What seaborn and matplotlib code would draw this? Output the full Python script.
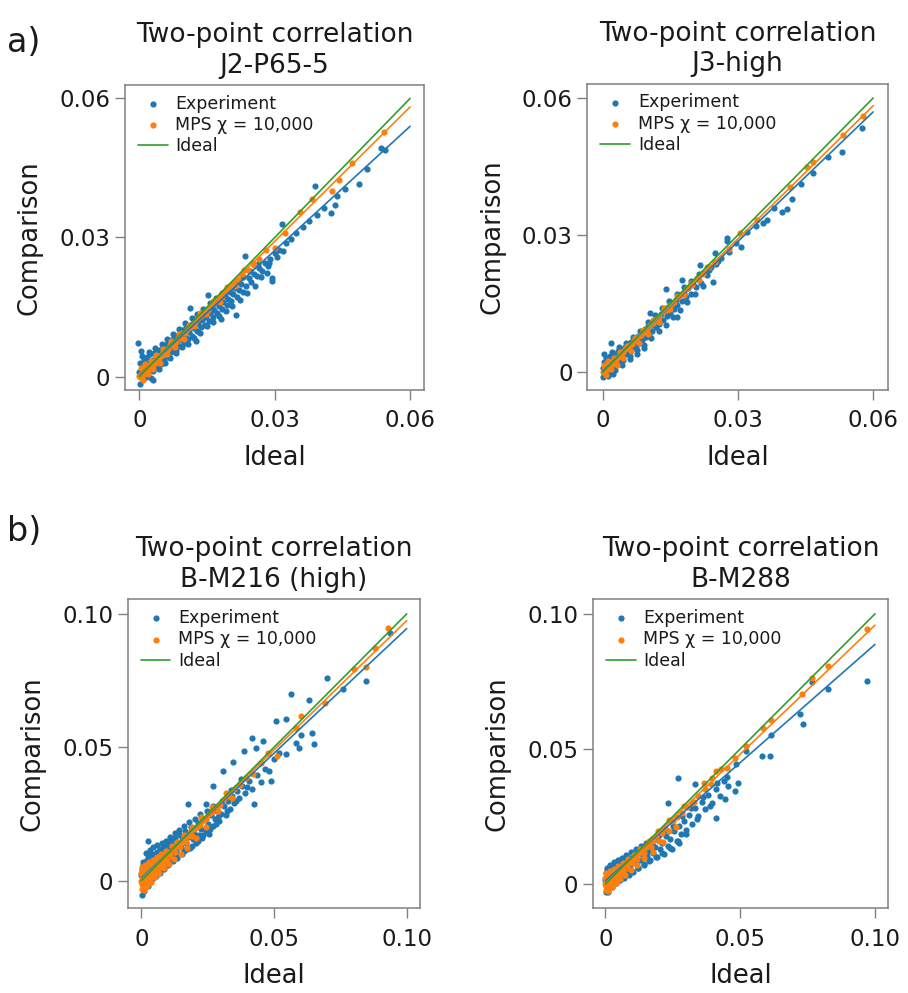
import matplotlib.pyplot as plt
import pandas as pd
import seaborn as sns

sns.set_style("ticks")
plt.rcParams["font.family"] = ["DejaVu Sans"]
plt.rcParams["axes.edgecolor"] = "#808080"
plt.rcParams["xtick.color"] = "#808080"
plt.rcParams["ytick.color"] = "#808080"
plt.rcParams["xtick.labelcolor"] = "#1a1a1a"
plt.rcParams["ytick.labelcolor"] = "#1a1a1a"
plt.rcParams["text.color"] = "#1a1a1a"
plt.rcParams["axes.labelcolor"] = "#1a1a1a"

BLUE, ORANGE, GREEN = "#1f77b4", "#ff7f0e", "#2ca02c"

# (ideal, comparison) pairs
a1_exp = [
    (0.0000, 0.0010), (0.0001, -0.0016), (0.0002, 0.0030), (0.0003, 0.0055), (-0.0004, 0.0073),
    (0.0004, 0.0002), (0.0006, 0.0018), (0.0008, -0.0006), (0.0009, 0.0038), (0.0011, 0.0012),
    (0.0013, 0.0026), (0.0014, -0.0002), (0.0016, 0.0042), (0.0018, 0.0008), (0.0020, 0.0030),
    (0.0022, 0.0016), (0.0024, 0.0048), (0.0025, -0.0004), (0.0027, 0.0022), (0.0029, 0.0036),
    (0.0031, 0.0012), (0.0033, 0.0050), (0.0035, 0.0028), (0.0037, 0.0019), (0.0039, 0.0044),
    (0.0042, 0.0034), (0.0044, 0.0058), (0.0047, 0.0026), (0.0050, 0.0048), (0.0052, 0.0064),
    (0.0055, 0.0036), (0.0058, 0.0055), (0.0060, 0.0070), (0.0063, 0.0044), (0.0066, 0.0060),
    (0.0069, 0.0078), (0.0071, 0.0052), (0.0074, 0.0066), (0.0077, 0.0084), (0.0080, 0.0058),
    (0.0083, 0.0074), (0.0086, 0.0090), (0.0089, 0.0066), (0.0092, 0.0082), (0.0095, 0.0100),
    (0.0098, 0.0072), (0.0101, 0.0090), (0.0104, 0.0106), (0.0107, 0.0082), (0.0111, 0.0147),
    (0.0110, 0.0096), (0.0114, 0.0112), (0.0117, 0.0088), (0.0120, 0.0104), (0.0123, 0.0120),
    (0.0126, 0.0077), (0.0127, 0.0098), (0.0130, 0.0114), (0.0133, 0.0128), (0.0136, 0.0106),
    (0.0139, 0.0122), (0.0142, 0.0136), (0.0145, 0.0112), (0.0148, 0.0128), (0.0152, 0.0175),
    (0.0151, 0.0142), (0.0154, 0.0120), (0.0157, 0.0136), (0.0160, 0.0150), (0.0163, 0.0128),
    (0.0166, 0.0144), (0.0170, 0.0158), (0.0173, 0.0138), (0.0176, 0.0152), (0.0179, 0.0166),
    (0.0181, 0.0124), (0.0183, 0.0146), (0.0186, 0.0160), (0.0190, 0.0174), (0.0193, 0.0154),
    (0.0196, 0.0168), (0.0200, 0.0182), (0.0204, 0.0164), (0.0208, 0.0178), (0.0213, 0.0133),
    (0.0212, 0.0190), (0.0216, 0.0172), (0.0220, 0.0186), (0.0225, 0.0200), (0.0229, 0.0182),
    (0.0234, 0.0259), (0.0236, 0.0196), (0.0242, 0.0212), (0.0248, 0.0205), (0.0254, 0.0222),
    (0.0260, 0.0216), (0.0266, 0.0234), (0.0272, 0.0228), (0.0278, 0.0244), (0.0284, 0.0238),
    (0.0290, 0.0254), (0.0293, 0.0212), (0.0294, 0.0207), (0.0300, 0.0266), (0.0304, 0.0258),
    (0.0310, 0.0272), (0.0317, 0.0328), (0.0319, 0.0270), (0.0326, 0.0288), (0.0335, 0.0296),
    (0.0348, 0.0310), (0.0362, 0.0322), (0.0375, 0.0336), (0.0390, 0.0412), (0.0393, 0.0348),
    (0.0410, 0.0364), (0.0425, 0.0352), (0.0434, 0.0371), (0.0438, 0.0390), (0.0455, 0.0405),
    (0.0486, 0.0416), (0.0505, 0.0448), (0.0535, 0.0493), (0.0545, 0.0488),
    (0.0005, 0.0045), (0.0015, 0.0002), (0.0021, 0.0052), (0.0030, -0.0008), (0.0034, 0.0062),
    (0.0043, 0.0016), (0.0049, 0.0070), (0.0057, 0.0030), (0.0062, 0.0082), (0.0068, 0.0040),
    (0.0075, 0.0092), (0.0082, 0.0050), (0.0088, 0.0102), (0.0094, 0.0064), (0.0102, 0.0116),
    (0.0108, 0.0070), (0.0116, 0.0126), (0.0121, 0.0084), (0.0128, 0.0134), (0.0135, 0.0094),
    (0.0141, 0.0146), (0.0149, 0.0108), (0.0156, 0.0158), (0.0162, 0.0118), (0.0169, 0.0170),
    (0.0177, 0.0130), (0.0184, 0.0180), (0.0192, 0.0142), (0.0199, 0.0192), (0.0206, 0.0152),
    (0.0214, 0.0204), (0.0222, 0.0166), (0.0230, 0.0214), (0.0238, 0.0180), (0.0246, 0.0228),
    (0.0256, 0.0196), (0.0263, 0.0242), (0.0270, 0.0214), (0.0282, 0.0224), (0.0288, 0.0246),
]
a1_mps = [
    (0.0000, 0.0002), (0.0002, -0.0002), (0.0004, 0.0006), (0.0006, 0.0003), (0.0008, 0.0010),
    (0.0010, 0.0006), (0.0012, 0.0014), (0.0014, 0.0011), (0.0016, 0.0018), (0.0018, 0.0015),
    (0.0020, 0.0022), (0.0023, 0.0019), (0.0026, 0.0027), (0.0029, 0.0024), (0.0032, 0.0033),
    (0.0035, 0.0030), (0.0038, 0.0039), (0.0041, 0.0036), (0.0044, 0.0045), (0.0048, 0.0044),
    (0.0052, 0.0052), (0.0056, 0.0051), (0.0060, 0.0060), (0.0064, 0.0059), (0.0068, 0.0067),
    (0.0072, 0.0067), (0.0076, 0.0075), (0.0080, 0.0074), (0.0085, 0.0083), (0.0090, 0.0083),
    (0.0095, 0.0093), (0.0100, 0.0094), (0.0106, 0.0103), (0.0112, 0.0106), (0.0118, 0.0115),
    (0.0124, 0.0118), (0.0130, 0.0127), (0.0137, 0.0130), (0.0144, 0.0140), (0.0151, 0.0144),
    (0.0158, 0.0155), (0.0166, 0.0158), (0.0174, 0.0170), (0.0182, 0.0174), (0.0190, 0.0185),
    (0.0199, 0.0190), (0.0208, 0.0202), (0.0218, 0.0208), (0.0228, 0.0222), (0.0240, 0.0230),
    (0.0252, 0.0245), (0.0265, 0.0254), (0.0280, 0.0272), (0.0300, 0.0277), (0.0323, 0.0310),
    (0.0356, 0.0354), (0.0382, 0.0383), (0.0427, 0.0400), (0.0442, 0.0423), (0.0471, 0.0460),
    (0.0542, 0.0527),
    (0.0003, 0.0018), (0.0007, -0.0008), (0.0013, 0.0026), (0.0019, 0.0005), (0.0025, 0.0034),
    (0.0031, 0.0016), (0.0037, 0.0046), (0.0045, 0.0030), (0.0053, 0.0060), (0.0061, 0.0048),
    (0.0070, 0.0076), (0.0079, 0.0064), (0.0088, 0.0092), (0.0098, 0.0082), (0.0110, 0.0112),
    (0.0122, 0.0108), (0.0135, 0.0138), (0.0148, 0.0134), (0.0162, 0.0164), (0.0178, 0.0160),
    (0.0194, 0.0194), (0.0212, 0.0196), (0.0232, 0.0230), (0.0255, 0.0240),
]

a2_exp = [
    (0.0000, 0.0008), (0.0001, -0.0010), (0.0003, 0.0022), (0.0005, 0.0004), (0.0007, 0.0030),
    (0.0009, 0.0012), (0.0011, -0.0004), (0.0013, 0.0026), (0.0015, 0.0010), (0.0017, 0.0036),
    (0.0019, 0.0063), (0.0021, 0.0018), (0.0023, -0.0003), (0.0025, 0.0032), (0.0027, 0.0014),
    (0.0029, 0.0040), (0.0031, 0.0024), (0.0033, 0.0046), (0.0035, 0.0030), (0.0037, 0.0020),
    (0.0040, 0.0050), (0.0043, 0.0036), (0.0046, 0.0026), (0.0049, 0.0054), (0.0052, 0.0040),
    (0.0055, 0.0062), (0.0058, 0.0046), (0.0061, 0.0036), (0.0064, 0.0066), (0.0067, 0.0052),
    (0.0070, 0.0074), (0.0073, 0.0058), (0.0076, 0.0048), (0.0079, 0.0080), (0.0082, 0.0064),
    (0.0085, 0.0086), (0.0088, 0.0070), (0.0091, 0.0060), (0.0094, 0.0094), (0.0097, 0.0078),
    (0.0100, 0.0100), (0.0104, 0.0129), (0.0103, 0.0084), (0.0107, 0.0104), (0.0110, 0.0090),
    (0.0114, 0.0112), (0.0118, 0.0098), (0.0122, 0.0120), (0.0126, 0.0106), (0.0130, 0.0128),
    (0.0134, 0.0114), (0.0138, 0.0134), (0.0140, 0.0183), (0.0142, 0.0122), (0.0146, 0.0142),
    (0.0150, 0.0130), (0.0154, 0.0152), (0.0158, 0.0138), (0.0162, 0.0158), (0.0165, 0.0121),
    (0.0166, 0.0146), (0.0170, 0.0168), (0.0175, 0.0201), (0.0175, 0.0156), (0.0180, 0.0174),
    (0.0185, 0.0164), (0.0190, 0.0184), (0.0195, 0.0172), (0.0200, 0.0192), (0.0206, 0.0186),
    (0.0212, 0.0204), (0.0216, 0.0234), (0.0218, 0.0196), (0.0225, 0.0216), (0.0232, 0.0212),
    (0.0240, 0.0230), (0.0245, 0.0198), (0.0249, 0.0260), (0.0252, 0.0236), (0.0262, 0.0250),
    (0.0275, 0.0293), (0.0275, 0.0288), (0.0280, 0.0262), (0.0295, 0.0282), (0.0308, 0.0274),
    (0.0320, 0.0306), (0.0340, 0.0320), (0.0356, 0.0326), (0.0364, 0.0333), (0.0380, 0.0360),
    (0.0397, 0.0351), (0.0408, 0.0358), (0.0419, 0.0380), (0.0440, 0.0412), (0.0467, 0.0435),
    (0.0500, 0.0470), (0.0530, 0.0482), (0.0575, 0.0534),
    (0.0004, 0.0040), (0.0012, -0.0008), (0.0020, 0.0044), (0.0028, 0.0004), (0.0036, 0.0054),
    (0.0044, 0.0016), (0.0052, 0.0064), (0.0060, 0.0028), (0.0068, 0.0078), (0.0076, 0.0040),
    (0.0084, 0.0090), (0.0092, 0.0052), (0.0100, 0.0110), (0.0108, 0.0074), (0.0116, 0.0124),
    (0.0124, 0.0090), (0.0132, 0.0140), (0.0140, 0.0104), (0.0148, 0.0156), (0.0156, 0.0120),
    (0.0164, 0.0170), (0.0172, 0.0136), (0.0180, 0.0186), (0.0188, 0.0154), (0.0196, 0.0200),
    (0.0204, 0.0170), (0.0214, 0.0214), (0.0222, 0.0188), (0.0236, 0.0224), (0.0256, 0.0244),
]
a2_mps = [
    (0.0000, 0.0001), (0.0002, 0.0004), (0.0004, 0.0002), (0.0006, 0.0007), (0.0008, 0.0005),
    (0.0010, 0.0011), (0.0012, 0.0009), (0.0015, 0.0016), (0.0018, 0.0015), (0.0021, 0.0021),
    (0.0024, 0.0020), (0.0027, 0.0027), (0.0030, 0.0026), (0.0034, 0.0034), (0.0038, 0.0035),
    (0.0042, 0.0042), (0.0046, 0.0043), (0.0050, 0.0050), (0.0055, 0.0052), (0.0060, 0.0059),
    (0.0065, 0.0062), (0.0070, 0.0069), (0.0075, 0.0072), (0.0080, 0.0079), (0.0086, 0.0082),
    (0.0092, 0.0091), (0.0098, 0.0094), (0.0105, 0.0103), (0.0112, 0.0108), (0.0119, 0.0117),
    (0.0126, 0.0121), (0.0134, 0.0131), (0.0142, 0.0137), (0.0150, 0.0147), (0.0159, 0.0153),
    (0.0168, 0.0165), (0.0178, 0.0172), (0.0188, 0.0184), (0.0198, 0.0191), (0.0210, 0.0205),
    (0.0222, 0.0214), (0.0235, 0.0230), (0.0250, 0.0241), (0.0280, 0.0270), (0.0304, 0.0304),
    (0.0342, 0.0333), (0.0416, 0.0406), (0.0453, 0.0448), (0.0467, 0.0461), (0.0534, 0.0519),
    (0.0578, 0.0561),
    (0.0003, 0.0016), (0.0007, -0.0006), (0.0013, 0.0024), (0.0019, 0.0006), (0.0025, 0.0032),
    (0.0031, 0.0015), (0.0038, 0.0044), (0.0046, 0.0030), (0.0054, 0.0058), (0.0062, 0.0046),
    (0.0071, 0.0074), (0.0080, 0.0064), (0.0090, 0.0092), (0.0100, 0.0084), (0.0112, 0.0114),
    (0.0124, 0.0110), (0.0137, 0.0140), (0.0150, 0.0138), (0.0165, 0.0166), (0.0180, 0.0168),
    (0.0196, 0.0196), (0.0214, 0.0202), (0.0232, 0.0230),
]

b1_exp = [
    (0.0000, 0.0020), (0.0001, -0.0056), (0.0002, 0.0045), (0.0004, -0.0010), (0.0006, 0.0030),
    (0.0008, 0.0060), (0.0010, 0.0008), (0.0012, -0.0025), (0.0014, 0.0040), (0.0016, 0.0075),
    (0.0018, 0.0015), (0.0020, -0.0015), (0.0022, 0.0050), (0.0024, 0.0088), (0.0026, 0.0147),
    (0.0027, 0.0025), (0.0030, 0.0062), (0.0033, 0.0000), (0.0036, 0.0095), (0.0039, 0.0040),
    (0.0042, 0.0072), (0.0045, 0.0012), (0.0048, 0.0100), (0.0051, 0.0055), (0.0054, 0.0080),
    (0.0057, 0.0028), (0.0060, 0.0108), (0.0063, 0.0065), (0.0066, 0.0090), (0.0069, 0.0040),
    (0.0072, 0.0118), (0.0075, 0.0075), (0.0078, 0.0100), (0.0081, 0.0052), (0.0084, 0.0128),
    (0.0087, 0.0085), (0.0090, 0.0110), (0.0093, 0.0064), (0.0096, 0.0138), (0.0100, 0.0095),
    (0.0104, 0.0120), (0.0107, 0.0156), (0.0108, 0.0075), (0.0112, 0.0148), (0.0116, 0.0105),
    (0.0120, 0.0130), (0.0124, 0.0086), (0.0128, 0.0160), (0.0132, 0.0116), (0.0136, 0.0140),
    (0.0140, 0.0098), (0.0145, 0.0172), (0.0150, 0.0126), (0.0155, 0.0152), (0.0160, 0.0110),
    (0.0165, 0.0185), (0.0170, 0.0140), (0.0176, 0.0286), (0.0176, 0.0165), (0.0182, 0.0124),
    (0.0188, 0.0200), (0.0194, 0.0155), (0.0200, 0.0180), (0.0206, 0.0140), (0.0212, 0.0215),
    (0.0218, 0.0170), (0.0224, 0.0195), (0.0230, 0.0158), (0.0236, 0.0230), (0.0242, 0.0186),
    (0.0245, 0.0286), (0.0250, 0.0212), (0.0256, 0.0175), (0.0262, 0.0245), (0.0270, 0.0354),
    (0.0270, 0.0205), (0.0278, 0.0232), (0.0282, 0.0212), (0.0286, 0.0262), (0.0294, 0.0225),
    (0.0302, 0.0250), (0.0307, 0.0410), (0.0310, 0.0280), (0.0318, 0.0245), (0.0326, 0.0300),
    (0.0334, 0.0268), (0.0345, 0.0445), (0.0342, 0.0318), (0.0350, 0.0290), (0.0360, 0.0335),
    (0.0370, 0.0310), (0.0380, 0.0355), (0.0388, 0.0485), (0.0392, 0.0330), (0.0405, 0.0372),
    (0.0419, 0.0535), (0.0418, 0.0345), (0.0426, 0.0288), (0.0432, 0.0497), (0.0435, 0.0395),
    (0.0450, 0.0370), (0.0457, 0.0522), (0.0465, 0.0420), (0.0480, 0.0410), (0.0488, 0.0373),
    (0.0500, 0.0455), (0.0507, 0.0600), (0.0520, 0.0480), (0.0544, 0.0607), (0.0544, 0.0473),
    (0.0563, 0.0699), (0.0582, 0.0516), (0.0594, 0.0497), (0.0600, 0.0547), (0.0632, 0.0678),
    (0.0644, 0.0553), (0.0650, 0.0512), (0.0698, 0.0761), (0.0760, 0.0720), (0.0848, 0.0749),
    (0.0938, 0.0927),
    (0.0005, 0.0070), (0.0011, -0.0040), (0.0017, 0.0105), (0.0025, -0.0020), (0.0031, 0.0115),
    (0.0040, 0.0005), (0.0046, 0.0125), (0.0055, 0.0018), (0.0061, 0.0132), (0.0070, 0.0030),
    (0.0077, 0.0140), (0.0085, 0.0045), (0.0092, 0.0150), (0.0101, 0.0060), (0.0110, 0.0165),
    (0.0118, 0.0072), (0.0126, 0.0178), (0.0135, 0.0085), (0.0143, 0.0190), (0.0152, 0.0100),
    (0.0162, 0.0205), (0.0172, 0.0118), (0.0181, 0.0218), (0.0191, 0.0130), (0.0202, 0.0232),
    (0.0212, 0.0150), (0.0222, 0.0248), (0.0232, 0.0172), (0.0246, 0.0262), (0.0258, 0.0192),
    (0.0272, 0.0280), (0.0288, 0.0240), (0.0305, 0.0300), (0.0322, 0.0262), (0.0338, 0.0340),
    (0.0355, 0.0300), (0.0375, 0.0380), (0.0398, 0.0350),
]
b1_mps = [
    (0.0000, 0.0000), (0.0000, 0.0030), (0.0001, -0.0030), (0.0002, 0.0015), (0.0003, -0.0012),
    (0.0005, 0.0035), (0.0006, 0.0005), (0.0008, -0.0020), (0.0010, 0.0025), (0.0012, 0.0040),
    (0.0014, 0.0008), (0.0016, -0.0008), (0.0018, 0.0030), (0.0020, 0.0045), (0.0023, 0.0015),
    (0.0026, 0.0002), (0.0029, 0.0040), (0.0032, 0.0022), (0.0035, 0.0052), (0.0038, 0.0015),
    (0.0041, 0.0035), (0.0044, 0.0058), (0.0047, 0.0028), (0.0050, 0.0045), (0.0054, 0.0065),
    (0.0058, 0.0040), (0.0062, 0.0058), (0.0066, 0.0075), (0.0070, 0.0052), (0.0074, 0.0070),
    (0.0078, 0.0085), (0.0082, 0.0064), (0.0086, 0.0082), (0.0090, 0.0095), (0.0095, 0.0078),
    (0.0100, 0.0096), (0.0105, 0.0108), (0.0110, 0.0092), (0.0116, 0.0112), (0.0122, 0.0124),
    (0.0128, 0.0108), (0.0134, 0.0128), (0.0140, 0.0140), (0.0147, 0.0126), (0.0154, 0.0148),
    (0.0161, 0.0160), (0.0168, 0.0146), (0.0176, 0.0168), (0.0184, 0.0182), (0.0192, 0.0168),
    (0.0200, 0.0192), (0.0210, 0.0200), (0.0220, 0.0208), (0.0230, 0.0222), (0.0242, 0.0232),
    (0.0255, 0.0250), (0.0268, 0.0256), (0.0282, 0.0276), (0.0296, 0.0285), (0.0312, 0.0305),
    (0.0330, 0.0318), (0.0350, 0.0342), (0.0372, 0.0360), (0.0395, 0.0385), (0.0420, 0.0400),
    (0.0450, 0.0440), (0.0476, 0.0479), (0.0513, 0.0466), (0.0582, 0.0572), (0.0600, 0.0616),
    (0.0694, 0.0665), (0.0800, 0.0794), (0.0848, 0.0802), (0.0881, 0.0873), (0.0931, 0.0948),
    (0.0004, 0.0050), (0.0009, -0.0035), (0.0015, 0.0060), (0.0022, -0.0022), (0.0028, 0.0068),
    (0.0036, -0.0005), (0.0043, 0.0078), (0.0052, 0.0012), (0.0060, 0.0088), (0.0068, 0.0030),
    (0.0076, 0.0100), (0.0085, 0.0048), (0.0094, 0.0112), (0.0104, 0.0062), (0.0114, 0.0128),
    (0.0124, 0.0080), (0.0136, 0.0146), (0.0148, 0.0100), (0.0160, 0.0172), (0.0174, 0.0122),
    (0.0190, 0.0200), (0.0206, 0.0160), (0.0225, 0.0238), (0.0245, 0.0200), (0.0265, 0.0276),
    (0.0290, 0.0262), (0.0320, 0.0330), (0.0340, 0.0310),
]

b2_exp = [
    (0.0000, 0.0015), (0.0001, -0.0030), (0.0002, 0.0040), (0.0004, 0.0005), (0.0006, 0.0050),
    (0.0008, -0.0010), (0.0010, 0.0030), (0.0012, 0.0055), (0.0014, 0.0012), (0.0016, 0.0045),
    (0.0018, -0.0005), (0.0020, 0.0060), (0.0023, 0.0025), (0.0026, 0.0050), (0.0029, 0.0002),
    (0.0032, 0.0068), (0.0035, 0.0035), (0.0038, 0.0058), (0.0041, 0.0010), (0.0044, 0.0074),
    (0.0047, 0.0042), (0.0050, 0.0064), (0.0053, 0.0020), (0.0056, 0.0082), (0.0060, 0.0050),
    (0.0064, 0.0070), (0.0068, 0.0030), (0.0072, 0.0090), (0.0076, 0.0058), (0.0080, 0.0078),
    (0.0084, 0.0040), (0.0088, 0.0098), (0.0092, 0.0066), (0.0096, 0.0086), (0.0100, 0.0048),
    (0.0105, 0.0108), (0.0110, 0.0078), (0.0115, 0.0098), (0.0120, 0.0060), (0.0125, 0.0120),
    (0.0130, 0.0088), (0.0136, 0.0110), (0.0142, 0.0074), (0.0148, 0.0134), (0.0154, 0.0102),
    (0.0160, 0.0122), (0.0166, 0.0088), (0.0172, 0.0148), (0.0178, 0.0114), (0.0184, 0.0136),
    (0.0190, 0.0100), (0.0196, 0.0162), (0.0203, 0.0128), (0.0210, 0.0150), (0.0217, 0.0112),
    (0.0224, 0.0178), (0.0232, 0.0301), (0.0232, 0.0142), (0.0240, 0.0166), (0.0248, 0.0128),
    (0.0256, 0.0196), (0.0264, 0.0158), (0.0269, 0.0394), (0.0272, 0.0153), (0.0272, 0.0214),
    (0.0280, 0.0185), (0.0290, 0.0232), (0.0300, 0.0200), (0.0310, 0.0256), (0.0320, 0.0222),
    (0.0331, 0.0369), (0.0332, 0.0280), (0.0345, 0.0252), (0.0358, 0.0305), (0.0370, 0.0276),
    (0.0382, 0.0330), (0.0395, 0.0300), (0.0412, 0.0246), (0.0410, 0.0350), (0.0425, 0.0324),
    (0.0442, 0.0314), (0.0440, 0.0380), (0.0455, 0.0364), (0.0480, 0.0344), (0.0486, 0.0443),
    (0.0492, 0.0375), (0.0523, 0.0493), (0.0579, 0.0474), (0.0610, 0.0474), (0.0616, 0.0552),
    (0.0721, 0.0628), (0.0733, 0.0591), (0.0765, 0.0749), (0.0827, 0.0721), (0.0969, 0.0752),
    (0.0005, 0.0058), (0.0011, -0.0028), (0.0017, 0.0072), (0.0025, -0.0012), (0.0031, 0.0080),
    (0.0040, 0.0004), (0.0046, 0.0090), (0.0055, 0.0014), (0.0061, 0.0098), (0.0070, 0.0024),
    (0.0078, 0.0108), (0.0086, 0.0034), (0.0094, 0.0118), (0.0103, 0.0046), (0.0112, 0.0128),
    (0.0122, 0.0058), (0.0132, 0.0140), (0.0142, 0.0070), (0.0152, 0.0152), (0.0162, 0.0084),
    (0.0174, 0.0166), (0.0186, 0.0100), (0.0198, 0.0182), (0.0210, 0.0116), (0.0224, 0.0200),
    (0.0238, 0.0134), (0.0252, 0.0216), (0.0268, 0.0160), (0.0285, 0.0250), (0.0300, 0.0186),
    (0.0318, 0.0282), (0.0338, 0.0240), (0.0362, 0.0322), (0.0388, 0.0290), (0.0415, 0.0372),
    (0.0450, 0.0395),
]
b2_mps = [
    (0.0000, 0.0000), (0.0000, 0.0022), (0.0001, -0.0022), (0.0002, 0.0010), (0.0004, -0.0008),
    (0.0006, 0.0028), (0.0008, 0.0004), (0.0010, -0.0012), (0.0012, 0.0020), (0.0015, 0.0034),
    (0.0018, 0.0008), (0.0021, 0.0026), (0.0024, 0.0040), (0.0027, 0.0014), (0.0030, 0.0032),
    (0.0034, 0.0046), (0.0038, 0.0022), (0.0042, 0.0040), (0.0046, 0.0054), (0.0050, 0.0032),
    (0.0055, 0.0050), (0.0060, 0.0064), (0.0065, 0.0046), (0.0070, 0.0062), (0.0075, 0.0076),
    (0.0080, 0.0060), (0.0086, 0.0076), (0.0092, 0.0090), (0.0098, 0.0076), (0.0105, 0.0094),
    (0.0112, 0.0108), (0.0119, 0.0094), (0.0126, 0.0114), (0.0134, 0.0128), (0.0142, 0.0114),
    (0.0150, 0.0136), (0.0159, 0.0150), (0.0168, 0.0136), (0.0178, 0.0160), (0.0188, 0.0176),
    (0.0198, 0.0160), (0.0210, 0.0190), (0.0222, 0.0208), (0.0235, 0.0196), (0.0250, 0.0232),
    (0.0266, 0.0248), (0.0284, 0.0262), (0.0302, 0.0286), (0.0322, 0.0300), (0.0345, 0.0326),
    (0.0368, 0.0350), (0.0390, 0.0370), (0.0412, 0.0419), (0.0450, 0.0428), (0.0480, 0.0468),
    (0.0523, 0.0511), (0.0585, 0.0579), (0.0616, 0.0606), (0.0731, 0.0703), (0.0768, 0.0762),
    (0.0827, 0.0807), (0.0969, 0.0943),
    (0.0004, 0.0040), (0.0010, -0.0025), (0.0016, 0.0048), (0.0024, -0.0012), (0.0030, 0.0056),
    (0.0038, 0.0002), (0.0046, 0.0066), (0.0055, 0.0018), (0.0064, 0.0078), (0.0074, 0.0034),
    (0.0084, 0.0092), (0.0095, 0.0052), (0.0106, 0.0108), (0.0118, 0.0072), (0.0130, 0.0128),
    (0.0144, 0.0096), (0.0160, 0.0160), (0.0176, 0.0118), (0.0194, 0.0195), (0.0214, 0.0156),
    (0.0236, 0.0236), (0.0260, 0.0212), (0.0290, 0.0290), (0.0330, 0.0305), (0.0365, 0.0372),
    (0.0395, 0.0392), (0.0430, 0.0425),
]

# linear fits (slope, intercept)
a1_fit_exp, a1_fit_mps = (0.893, 0.0004), (0.966, 0.0002)
a2_fit_exp, a2_fit_mps = (0.946, 0.0002), (0.972, 0.0000)
b1_fit_exp, b1_fit_mps = (0.935, 0.0010), (0.970, 0.0005)
b2_fit_exp, b2_fit_mps = (0.875, 0.0012), (0.955, 0.0003)

a_ticks, a_ticklabels = [0, 0.03, 0.06], ["0", "0.03", "0.06"]
b_ticks, b_ticklabels = [0, 0.05, 0.10], ["0", "0.05", "0.10"]


def panel(ax, title, exp, mps, fit_exp, fit_mps, xmax, ticks, ticklabels, xlim, ylim):
    exp_df = pd.DataFrame(exp, columns=["ideal", "comp"])
    mps_df = pd.DataFrame(mps, columns=["ideal", "comp"])
    sns.scatterplot(data=exp_df, x="ideal", y="comp", ax=ax, color=BLUE, s=20,
                    linewidth=0, label="Experiment", zorder=2)
    sns.scatterplot(data=mps_df, x="ideal", y="comp", ax=ax, color=ORANGE, s=20,
                    linewidth=0, label="MPS \u03c7 = 10,000", zorder=3)
    xs = [0, xmax]
    fit_df = pd.DataFrame({
        "x": xs,
        "exp": [fit_exp[0] * x + fit_exp[1] for x in xs],
        "mps": [fit_mps[0] * x + fit_mps[1] for x in xs],
    })
    sns.lineplot(data=fit_df, x="x", y="exp", ax=ax, color=BLUE, lw=1.2, zorder=4)
    sns.lineplot(data=fit_df, x="x", y="mps", ax=ax, color=ORANGE, lw=1.2, zorder=4)
    sns.lineplot(data=fit_df, x="x", y="x", ax=ax, color=GREEN, lw=1.2, zorder=5,
                 label="Ideal")
    ax.set_xlim(*xlim)
    ax.set_ylim(*ylim)
    ax.set_xticks(ticks)
    ax.set_xticklabels(ticklabels)
    ax.set_yticks(ticks)
    ax.set_yticklabels(ticklabels)
    ax.tick_params(labelsize=16.5, length=7, width=1.0)
    ax.tick_params(axis="x", pad=7)
    ax.set_xlabel("Ideal", fontsize=18.5, labelpad=9)
    ax.set_ylabel("Comparison", fontsize=18.5, labelpad=12)
    ax.set_title(title, fontsize=19, pad=9, linespacing=1.22)
    for sp in ax.spines.values():
        sp.set_linewidth(1.1)
    ax.legend(loc="upper left", bbox_to_anchor=(0.012, 1.0), frameon=False, fontsize=12.5,
              borderaxespad=0.25, handlelength=1.7, handletextpad=0.45,
              labelspacing=0.2, borderpad=0.3)


fig = plt.figure(figsize=(9.08, 9.93), dpi=100)
ax1 = fig.add_axes([0.1377, 0.6073, 0.3293, 0.3071])
ax2 = fig.add_axes([0.6468, 0.6073, 0.3312, 0.3082])
ax3 = fig.add_axes([0.1407, 0.0853, 0.3218, 0.3112])
ax4 = fig.add_axes([0.6531, 0.0853, 0.3254, 0.3112])

panel(ax1, "Two-point correlation\nJ2-P65-5", a1_exp, a1_mps, a1_fit_exp, a1_fit_mps,
      0.06, a_ticks, a_ticklabels, (-0.0032, 0.0631), (-0.0029, 0.0629))
panel(ax2, "Two-point correlation\nJ3-high", a2_exp, a2_mps, a2_fit_exp, a2_fit_mps,
      0.06, a_ticks, a_ticklabels, (-0.0034, 0.0633), (-0.0039, 0.0631))
panel(ax3, "Two-point correlation\nB-M216 (high)", b1_exp, b1_mps, b1_fit_exp, b1_fit_mps,
      0.10, b_ticks, b_ticklabels, (-0.0051, 0.1050), (-0.0104, 0.1055))
panel(ax4, "Two-point correlation\nB-M288", b2_exp, b2_mps, b2_fit_exp, b2_fit_mps,
      0.10, b_ticks, b_ticklabels, (-0.0046, 0.1050), (-0.0090, 0.1054))

fig.text(0.008, 0.948, "a)", fontsize=24)
fig.text(0.008, 0.455, "b)", fontsize=24)

fig.savefig("out.png", dpi=100)
